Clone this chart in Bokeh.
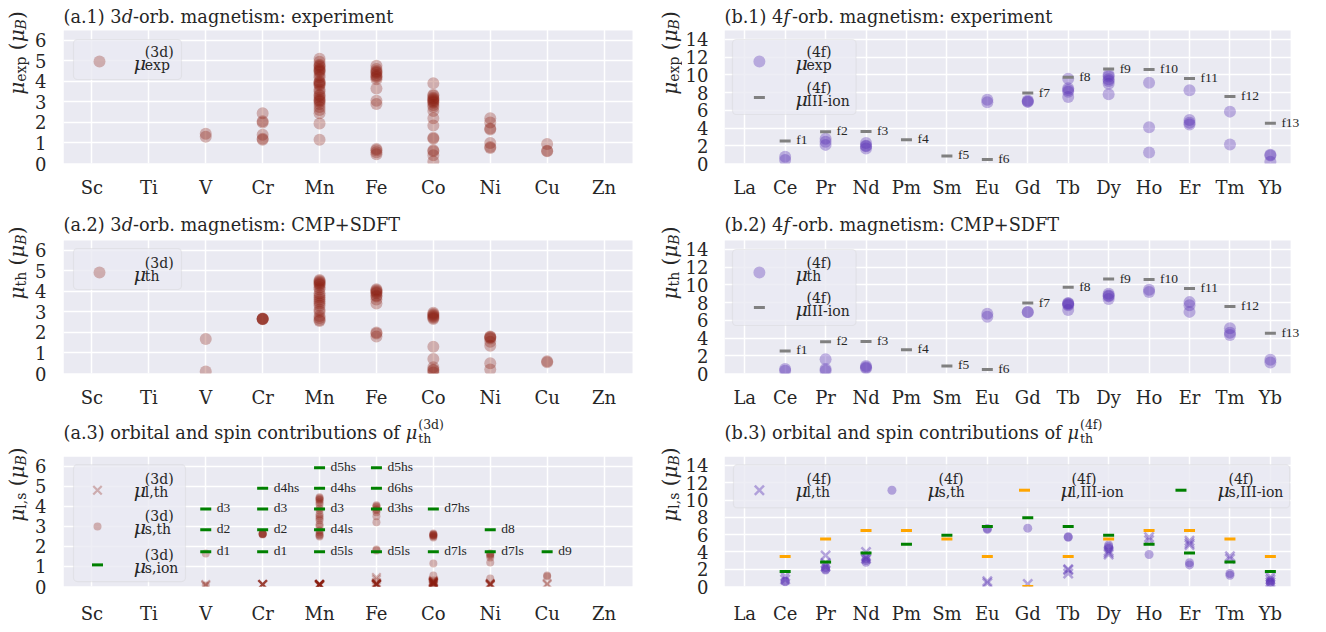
import math
from bokeh.plotting import figure
from bokeh.models import Range1d, FixedTicker, Label, LabelSet, BoxAnnotation, ColumnDataSource
from bokeh.layouts import column, row
from bokeh.embed import file_html
from bokeh.resources import INLINE

# ---------------------------------------------------------------- data
ELEMENTS_3D = ["Sc", "Ti", "V", "Cr", "Mn", "Fe", "Co", "Ni", "Cu", "Zn"]
ELEMENTS_4F = ["La", "Ce", "Pr", "Nd", "Pm", "Sm", "Eu", "Gd", "Tb", "Dy", "Ho", "Er", "Tm", "Yb"]

MU_EXP_3D = {
    "V": [1.45, 1.3],
    "Cr": [2.45, 2.05, 2.0, 1.4, 1.2, 1.15],
    "Mn": [5.1, 4.95, 4.8, 4.75, 4.7, 4.6, 4.55, 4.5, 4.45, 4.3, 4.2, 4.0, 3.95, 3.9, 3.85,
           3.8, 3.6, 3.5, 3.35, 3.3, 3.2, 3.1, 3.05, 3.0, 2.9, 2.75, 2.6, 2.45, 1.95, 1.15],
    "Fe": [4.75, 4.6, 4.5, 4.45, 4.4, 4.3, 4.25, 4.2, 4.1, 3.65, 3.05, 2.9, 0.7, 0.65, 0.55, 0.45],
    "Co": [3.9, 3.35, 3.3, 3.2, 3.15, 3.1, 3.05, 3.0, 2.95, 2.85, 2.75, 2.55, 2.2, 1.85,
           1.25, 1.2, 0.65, 0.6, 0.4, 0.1],
    "Ni": [2.2, 2.0, 1.7, 1.65, 1.0, 0.8, 0.75],
    "Cu": [0.95, 0.6, 0.62],
}
MU_TH_3D = {
    "V": [1.68, 0.1],
    "Cr": [2.65, 2.65, 2.66, 2.67, 2.64],
    "Mn": [4.55, 4.5, 4.45, 4.4, 4.35, 4.3, 4.2, 4.1, 3.9, 3.8, 3.7, 3.6, 3.5, 3.4, 3.3,
           3.1, 3.0, 2.8, 2.7, 2.6, 2.55],
    "Fe": [4.1, 4.05, 4.0, 3.95, 3.9, 3.8, 3.75, 3.6, 3.4, 2.0, 1.95, 1.8],
    "Co": [2.95, 2.9, 2.85, 2.8, 2.75, 2.7, 2.65, 1.3, 0.7, 0.3, 0.2, 0.15, 0.05],
    "Ni": [1.8, 1.78, 1.75, 1.7, 1.55, 1.35, 0.5, 0.2],
    "Cu": [0.6, 0.55],
}
MU_L_TH_3D = {
    "V": [0.1, 0.05],
    "Cr": [0.1, 0.1, 0.1, 0.1, 0.1],
    "Mn": [0.1, 0.1, 0.1, 0.1, 0.1, 0.1, 0.05, 0.05, 0.05, 0.1, 0.1, 0.1],
    "Fe": [0.1, 0.1, 0.15, 0.15, 0.1, 0.1, 0.2, 0.45, 0.35, 0.1, 0.1],
    "Co": [0.15, 0.15, 0.2, 0.2, 0.25, 0.2, 0.25, 0.15, 0.2, 0.1, 0.05, 0.05, 0.3],
    "Ni": [0.1, 0.1, 0.15, 0.1, 0.15, 0.1, 0.05],
    "Cu": [0.15, 0.1],
}
MU_S_TH_3D = {
    "V": [1.65, 0.05],
    "Cr": [2.62, 2.62, 2.63, 2.64, 2.6],
    "Mn": [4.45, 4.4, 4.35, 4.3, 4.2, 4.1, 3.9, 3.8, 3.6, 3.5, 3.4, 3.3, 3.1, 3.0, 2.8,
           2.7, 2.6, 2.55, 2.5],
    "Fe": [4.05, 4.0, 3.95, 3.85, 3.8, 3.7, 3.5, 3.2, 1.85, 1.8],
    "Co": [2.65, 2.6, 2.6, 2.55, 2.55, 2.5, 2.45, 1.15, 0.55, 0.3, 0.2, 0.15],
    "Ni": [1.65, 1.6, 1.55, 1.45, 1.2, 0.4],
    "Cu": [0.55, 0.5],
}
ION_3D_ELEM = ["V", "V", "V", "Cr", "Cr", "Cr", "Cr", "Mn", "Mn", "Mn", "Mn", "Mn",
               "Fe", "Fe", "Fe", "Fe", "Co", "Co", "Ni", "Ni", "Cu"]
ION_3D_VAL = [1.73, 2.83, 3.87, 1.73, 2.83, 3.87, 4.90, 1.73, 2.83, 3.87, 4.90, 5.92,
              1.73, 3.87, 4.90, 5.92, 1.73, 3.87, 1.73, 2.83, 1.73]
ION_3D_LAB = ["d1", "d2", "d3", "d1", "d2", "d3", "d4hs", "d5ls", "d4ls", "d3", "d4hs", "d5hs",
              "d5ls", "d3hs", "d6hs", "d5hs", "d7ls", "d7hs", "d7ls", "d8", "d9"]

MU_EXP_4F = {
    "Ce": [0.75, 0.4], "Pr": [2.8, 2.45, 2.1], "Nd": [2.3, 2.0, 1.95, 1.7],
    "Eu": [7.2, 6.9], "Gd": [7.1, 7.0, 6.95], "Tb": [9.55, 8.5, 8.3, 8.1, 7.5],
    "Dy": [10.0, 9.8, 9.5, 9.3, 9.0, 7.8], "Ho": [9.1, 4.1, 1.25],
    "Er": [8.25, 4.9, 4.6, 4.4], "Tm": [5.85, 2.15], "Yb": [1.0, 0.9, 0.2],
}
MU_TH_4F = {
    "Ce": [0.5, 0.3], "Pr": [1.6, 0.5, 0.3], "Nd": [0.85, 0.7, 0.6],
    "Eu": [6.75, 6.4], "Gd": [6.95, 6.9], "Tb": [7.95, 7.9, 7.8, 7.7, 7.15],
    "Dy": [9.0, 8.8, 8.7, 8.4], "Ho": [9.45, 9.2], "Er": [8.05, 7.7, 6.95],
    "Tm": [5.1, 4.6, 4.35], "Yb": [1.55, 1.25],
}
ION_4F_ELEM = ["Ce", "Pr", "Nd", "Pm", "Sm", "Eu", "Gd", "Tb", "Dy", "Ho", "Er", "Tm", "Yb"]
ION_4F_LAB = ["f1", "f2", "f3", "f4", "f5", "f6", "f7", "f8", "f9", "f10", "f11", "f12", "f13"]
MU_III_ION = [2.54, 3.58, 3.62, 2.68, 0.85, 0.45, 7.94, 9.72, 10.65, 10.61, 9.58, 7.56, 4.54]
MU_L_III_ION = [3.46, 5.48, 6.48, 6.48, 5.48, 3.46, 0.0, 3.46, 5.48, 6.48, 6.48, 5.48, 3.46]
MU_S_III_ION = [1.73, 2.83, 3.87, 4.90, 5.92, 6.93, 7.94, 6.93, 5.92, 4.90, 3.87, 2.83, 1.73]
MU_L_TH_4F = {
    "Ce": [1.2, 0.8], "Pr": [3.6, 2.7, 2.3], "Nd": [4.0, 3.5, 3.2], "Eu": [0.6, 0.4],
    "Gd": [0.3], "Tb": [2.0, 1.9, 1.5], "Dy": [4.1, 3.9, 3.7], "Ho": [5.7, 5.35],
    "Er": [5.3, 5.0, 4.8], "Tm": [3.5, 3.2], "Yb": [1.1, 0.8, 0.5],
}
MU_S_TH_4F = {
    "Ce": [0.6, 0.55], "Pr": [2.2, 2.0, 1.9], "Nd": [3.2, 3.0, 2.8], "Eu": [6.7, 6.6],
    "Gd": [6.75], "Tb": [5.7, 5.75], "Dy": [4.8, 4.6, 4.4], "Ho": [3.7],
    "Er": [2.75, 2.5], "Tm": [1.5, 1.3], "Yb": [0.7, 0.5, 0.4],
}

# ---------------------------------------------------------------- style
FONT = "DejaVu Serif"
TXT = "#262626"
BG = "#EAEAF2"
RED = "#8c1e0f"
PURPLE = "#5a32b4"
GRAY = "#808080"
ORANGE = "#FFA500"
GREEN = "#008000"
TS = 17.7      # title font size

EM = {" ": 0.318, "(": 0.390, ")": 0.390, ".": 0.318, ",": 0.318, ":": 0.337, "-": 0.338,
      "+": 0.838, "a": 0.596, "b": 0.640, "c": 0.560, "d": 0.640, "e": 0.592, "f": 0.370,
      "g": 0.640, "h": 0.644, "i": 0.320, "l": 0.320, "m": 0.948, "n": 0.644, "o": 0.602,
      "p": 0.640, "r": 0.478, "s": 0.513, "t": 0.402, "u": 0.644, "x": 0.565, "B": 0.733,
      "I": 0.365, "μ": 0.650}
for _c in "0123456789":
    EM[_c] = 0.636


def tw(s, size):
    return sum(EM.get(c, 0.6) for c in s) * size


# page geometry (pixels)
COLS = [dict(lab_x=0, lab_w=30, fig_x=30, fig_w=620, plot_l=63, plot_w=569, xc=16, yso=17),
        dict(lab_x=650, lab_w=32, fig_x=682, fig_w=638, plot_l=722, plot_w=568, xc=669.5, yso=16)]
ROWS = [dict(y=0, h=208, plot_t=30, plot_h=133, tb=20, so=13),
        dict(y=208, h=210, plot_t=240, plot_h=133, tb=228, so=13),
        dict(y=418, h=208, plot_t=457, plot_h=132, tb=439, so=16)]


class Geo:
    """Maps page pixels to data coordinates of a panel."""
    def __init__(self, left, bottom, sx, sy, x0, y0):
        self.left, self.bottom, self.sx, self.sy, self.x0, self.y0 = left, bottom, sx, sy, x0, y0

    def dx(self, px):
        return self.x0 + (px - self.left) / self.sx

    def dy(self, py):
        return self.y0 + (self.bottom - py) / self.sy


def make_fig(names, ymax, yticks, col, rw):
    n = len(names)
    sx = col["plot_w"] / n
    sy = rw["plot_h"] / ymax
    plot_b = rw["plot_t"] + rw["plot_h"]
    x_end = -0.5 + (col["fig_x"] + col["fig_w"] - col["plot_l"]) / sx
    y_end = (plot_b - rw["y"]) / sy
    p = figure(width=col["fig_w"], height=rw["h"], x_range=Range1d(-0.5, x_end),
               y_range=Range1d(0, y_end), output_backend="svg", toolbar_location=None, tools="",
               min_border_left=col["plot_l"] - col["fig_x"], min_border_right=0,
               min_border_top=0, min_border_bottom=rw["y"] + rw["h"] - plot_b)
    p.background_fill_color = "white"
    p.border_fill_color = "white"
    p.outline_line_color = None
    p.add_layout(BoxAnnotation(left=-0.5, right=n - 0.5, bottom=0, top=ymax, fill_color=BG,
                               fill_alpha=1.0, line_color=None, level="image"))
    xt = FixedTicker(ticks=list(range(n)))
    yt = FixedTicker(ticks=yticks)
    p.xaxis.ticker = xt
    p.xgrid.ticker = xt
    p.yaxis.ticker = yt
    p.ygrid.ticker = yt
    p.xaxis.major_label_overrides = {i: nm for i, nm in enumerate(names)}
    for ax in (p.xaxis, p.yaxis):
        ax.axis_line_color = None
        ax.major_tick_line_color = None
        ax.minor_tick_line_color = None
        ax.major_tick_out = 0
        ax.major_tick_in = 0
        ax.major_label_text_font = FONT
        ax.major_label_text_font_size = "18px"
        ax.major_label_text_color = TXT
    p.xaxis.major_label_standoff = rw["so"]
    p.yaxis.major_label_standoff = col["yso"]
    p.grid.grid_line_color = "white"
    p.grid.grid_line_width = 1.5
    g = Geo(col["plot_l"], plot_b, sx, sy, -0.5, 0.0)
    return p, g


def label_fig(col, rw):
    """Narrow figure holding the vertical axis title; data units = pixels."""
    w, h = col["lab_w"], rw["h"]
    p = figure(width=w, height=h, x_range=Range1d(0, w), y_range=Range1d(0, h),
               output_backend="svg", toolbar_location=None, tools="", min_border=0,
               min_border_left=0, min_border_right=0, min_border_top=0, min_border_bottom=0,
               x_axis_type=None, y_axis_type=None, title=None)
    p.background_fill_color = "white"
    p.border_fill_color = "white"
    p.outline_line_color = None
    g = Geo(col["lab_x"], rw["y"] + h, 1.0, 1.0, 0.0, 0.0)
    return p, g


def txt(p, g, px, py, s, size, style="normal", color=TXT):
    """px, py: page position of the start of the text's baseline."""
    ay = py - 0.2 * size
    p.add_layout(Label(x=g.x0, y=g.y0, x_offset=px - g.left, y_offset=g.bottom - ay,
                       text=s, text_font=FONT, text_font_size=f"{size}px", text_font_style=style,
                       text_align="left", text_baseline="middle",
                       text_color=color, level="overlay"))


def rtxt(p, g, cx, cy, s, size, style="normal", color=TXT):
    """Vertical (rotated 90 deg) text centred on page position cx, cy."""
    p.add_layout(Label(x=g.x0, y=g.y0, x_offset=cx - g.left, y_offset=g.bottom - cy,
                       text=s, text_font=FONT, text_font_size=f"{size}px", text_font_style=style,
                       text_align="center", text_baseline="middle", angle=math.pi / 2,
                       text_color=color, level="overlay"))


def mu_label(p, g, px, m, sup, sub, big=19, small=14, gap=11):
    txt(p, g, px, m + 5, "μ", big, style="italic")
    txt(p, g, px + gap, m - 7, sup, small)
    txt(p, g, px + gap, m + 6, sub, small)


def ylabel(p, g, xc, yc, sub, big=20, small=14):
    # (text, is_sub, italic, gap before)
    pieces = [("μ", False, True, 0), (sub, True, False, 0), ("(", False, False, 0.318 * big),
              ("μ", False, True, 0), ("B", True, True, 0), (")", False, False, 0)]
    total = sum(tw(t, small if s else big) + gp for t, s, it, gp in pieces)
    y = yc + total / 2
    for t, s, it, gp in pieces:
        size = small if s else big
        y -= gp
        w = tw(t, size)
        rtxt(p, g, xc + (4 if s else 0), y - w / 2, t, size, style="italic" if it else "normal")
        y -= w


def title_orb(p, g, x, y, head, letter, tail):
    txt(p, g, x, y, head, TS)
    x += tw(head, TS)
    txt(p, g, x, y, letter, TS, style="italic")
    x += tw(letter, TS) + (2 if letter == "f" else 0)
    txt(p, g, x, y, tail, TS)


def title_mu(p, g, x, y, main, sup):
    txt(p, g, x, y, main, TS)
    xm = x + tw(main + " ", TS)
    txt(p, g, xm, y, "μ", TS, style="italic")
    xs = xm + tw("μ", TS) + 1
    txt(p, g, xs, y - 10, sup, 12.5)
    txt(p, g, xs, y + 4, "th", 12.5)


def legend_box(p, g, x0, y0, x1, y1):
    p.add_layout(BoxAnnotation(left=g.dx(x0), right=g.dx(x1), top=g.dy(y0), bottom=g.dy(y1),
                               fill_color=BG, fill_alpha=0.8, line_color="#cccccc",
                               line_width=1.2, border_radius=4))


def legend_mark(p, g, px, py, **kw):
    r = p.scatter([g.dx(px)], [g.dy(py)], **kw)
    r.level = "overlay"


def flat(names, d):
    xs, ys = [], []
    for el, vals in d.items():
        xs += [names.index(el)] * len(vals)
        ys += vals
    return xs, ys


CIRC_3D = dict(marker="circle", size=12, fill_color=RED, fill_alpha=0.3, line_color=None)
CIRC_4F = dict(marker="circle", size=12, fill_color=PURPLE, fill_alpha=0.35, line_color=None)
X_3D = dict(marker="x", size=12, line_color=RED, line_alpha=0.3, line_width=2.2)
DOT_3D = dict(marker="circle", size=8, fill_color=RED, fill_alpha=0.3, line_color=None)
X_4F = dict(marker="x", size=13, line_color=PURPLE, line_alpha=0.4, line_width=2.5)
DOT_4F = dict(marker="circle", size=9, fill_color=PURPLE, fill_alpha=0.4, line_color=None)


def dash(color):
    return dict(marker="dash", size=11, line_color=color, line_width=3)


def text_set(p, xs, ys, labels):
    src = ColumnDataSource(dict(x=xs, y=ys, t=labels))
    p.add_layout(LabelSet(x="x", y="y", text="t", source=src, x_offset=11, y_offset=1,
                          text_baseline="middle", text_font=FONT, text_font_size="13.5px",
                          text_color=TXT))


# ---------------------------------------------------------------- panels
YSUB = ["exp", "th", "l,s"]
rows_out = []
for ri, rw in enumerate(ROWS):
    yc = rw["plot_t"] + rw["plot_h"] / 2 + 1
    parts = []
    # ---------- left (3d)
    col = COLS[0]
    lp, lg = label_fig(col, rw)
    ylabel(lp, lg, col["xc"], yc, YSUB[ri])
    p, g = make_fig(ELEMENTS_3D, 6.47, [0, 1, 2, 3, 4, 5, 6], col, rw)
    tx, tb = col["plot_l"], rw["tb"]
    if ri == 0:
        xs, ys = flat(ELEMENTS_3D, MU_EXP_3D)
        p.scatter(xs, ys, **CIRC_3D)
        title_orb(p, g, tx, tb, "(a.1) 3", "d", "-orb. magnetism: experiment")
        legend_box(p, g, 73, 39, 181, 79)
        legend_mark(p, g, 99, 61, **CIRC_3D)
        mu_label(p, g, 133.3, 61, "(3d)", "exp")
    elif ri == 1:
        xs, ys = flat(ELEMENTS_3D, MU_TH_3D)
        p.scatter(xs, ys, **CIRC_3D)
        title_orb(p, g, tx, tb, "(a.2) 3", "d", "-orb. magnetism: CMP+SDFT")
        legend_box(p, g, 73, 248, 181, 289)
        legend_mark(p, g, 99, 272, **CIRC_3D)
        mu_label(p, g, 133.3, 272, "(3d)", "th")
    else:
        xs, ys = flat(ELEMENTS_3D, MU_L_TH_3D)
        p.scatter(xs, ys, **X_3D)
        xs, ys = flat(ELEMENTS_3D, MU_S_TH_3D)
        p.scatter(xs, ys, **DOT_3D)
        ix = [ELEMENTS_3D.index(e) for e in ION_3D_ELEM]
        p.scatter(ix, ION_3D_VAL, **dash(GREEN))
        text_set(p, ix, ION_3D_VAL, ION_3D_LAB)
        title_mu(p, g, tx, tb, "(a.3) orbital and spin contributions of", "(3d)")
        legend_box(p, g, 73, 465, 185, 584)
        legend_mark(p, g, 97, 491, **X_3D)
        legend_mark(p, g, 97, 528, **DOT_3D)
        legend_mark(p, g, 97, 567, **dash(GREEN))
        mu_label(p, g, 133.3, 491, "(3d)", "l,th")
        mu_label(p, g, 133.3, 528, "(3d)", "s,th")
        mu_label(p, g, 133.3, 567, "(3d)", "s,ion")
    parts += [lp, p]

    # ---------- right (4f)
    col = COLS[1]
    lp, lg = label_fig(col, rw)
    ylabel(lp, lg, col["xc"], yc, YSUB[ri])
    p, g = make_fig(ELEMENTS_4F, 15.0, [0, 2, 4, 6, 8, 10, 12, 14], col, rw)
    tx = col["plot_l"]
    ion_x = [ELEMENTS_4F.index(e) for e in ION_4F_ELEM]
    if ri < 2:
        xs, ys = flat(ELEMENTS_4F, MU_EXP_4F if ri == 0 else MU_TH_4F)
        p.scatter(xs, ys, **CIRC_4F)
        p.scatter(ion_x, MU_III_ION, **dash(GRAY))
        text_set(p, ion_x, MU_III_ION, ION_4F_LAB)
        if ri == 0:
            title_orb(p, g, tx, tb, "(b.1) 4", "f", "-orb. magnetism: experiment")
            legend_box(p, g, 730, 39, 854, 114)
            legend_mark(p, g, 757, 61, **CIRC_4F)
            legend_mark(p, g, 757, 97, **dash(GRAY))
            mu_label(p, g, 793, 61, "(4f)", "exp")
            mu_label(p, g, 793, 97, "(4f)", "III-ion")
        else:
            title_orb(p, g, tx, tb, "(b.2) 4", "f", "-orb. magnetism: CMP+SDFT")
            legend_box(p, g, 730, 249, 854, 325)
            legend_mark(p, g, 757, 272, **CIRC_4F)
            legend_mark(p, g, 757, 307, **dash(GRAY))
            mu_label(p, g, 793, 272, "(4f)", "th")
            mu_label(p, g, 793, 307, "(4f)", "III-ion")
    else:
        xs, ys = flat(ELEMENTS_4F, MU_L_TH_4F)
        p.scatter(xs, ys, **X_4F)
        xs, ys = flat(ELEMENTS_4F, MU_S_TH_4F)
        p.scatter(xs, ys, **DOT_4F)
        p.scatter(ion_x, MU_L_III_ION, **dash(ORANGE))
        p.scatter(ion_x, MU_S_III_ION, **dash(GREEN))
        title_mu(p, g, tx, tb, "(b.3) orbital and spin contributions of", "(4f)")
        legend_box(p, g, 731, 465, 1289, 509)
        legend_mark(p, g, 757, 491, **X_4F)
        legend_mark(p, g, 890, 491, **DOT_4F)
        legend_mark(p, g, 1023, 491, **dash(ORANGE))
        legend_mark(p, g, 1180, 491, **dash(GREEN))
        mu_label(p, g, 793, 491, "(4f)", "l,th")
        mu_label(p, g, 925, 491, "(4f)", "s,th")
        mu_label(p, g, 1058, 491, "(4f)", "l,III-ion")
        mu_label(p, g, 1215, 491, "(4f)", "s,III-ion")
    parts += [lp, p]
    rows_out.append(row(*parts))

layout = column(*rows_out)
open("out.html", "w").write(file_html(layout, INLINE))
